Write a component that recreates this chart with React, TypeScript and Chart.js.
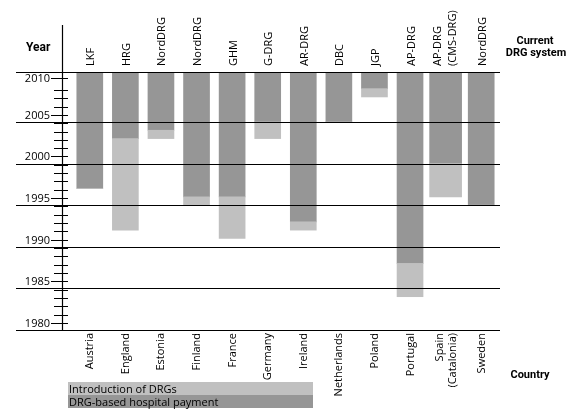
import React, { useEffect, useRef } from "react";
import { Chart, registerables } from "chart.js";

Chart.register(...registerables);

// ---- data ----
const countries: string[][] = [
  ["Austria"], ["England"], ["Estonia"], ["Finland"], ["France"], ["Germany"],
  ["Ireland"], ["Netherlands"], ["Poland"], ["Portugal"], ["Spain", "(Catalonia)"], ["Sweden"],
];
const drgSystems: string[][] = [
  ["LKF"], ["HRG"], ["NordDRG"], ["NordDRG"], ["GHM"], ["G-DRG"],
  ["AR-DRG"], ["DBC"], ["JGP"], ["AP-DRG"], ["AP-DRG", "(CMS-DRG)"], ["NordDRG"],
];
const introductionYear = [1997, 1992, 2003, 1995, 1991, 2003, 1992, 2005, 2008, 1984, 1996, 1995];
const paymentYear = [1997, 2003, 2004, 1996, 1996, 2005, 1993, 2005, 2009, 1988, 2000, 1995];
const chartEndYear = 2011;
const yearMin = 1980;
const majorYears = [1980, 1985, 1990, 1995, 2000, 2005, 2010];
const gridYears = [1980, 1985, 1990, 1995, 2000, 2005];
const legendLabels = ["Introduction of DRGs", "DRG-based hospital payment"];

// ---- style ----
const LIGHT = "#c0c0c0";
const DARK = "#969696";
const WIDE_INDEX = 10;
const REG = "11px 'Open Sans', 'Liberation Sans', sans-serif";
const BOLD_YEAR = "bold 12px Roboto, 'Liberation Sans', sans-serif";
const BOLD = "bold 11px Roboto, 'Liberation Sans', sans-serif";

const introRanges = introductionYear.map((v, i) => [v, paymentYear[i]]);
const payRanges = paymentYear.map((v) => [v, chartEndYear]);
const onlyNarrow = (a: any[]) => a.map((v, i) => (i === WIDE_INDEX ? null : v));
const onlyWide = (a: any[]) => a.map((v, i) => (i === WIDE_INDEX ? v : null));

const decorPlugin = {
  id: "decor",
  afterDatasetsDraw(chart: any) {
    const ctx = chart.ctx as CanvasRenderingContext2D;
    const ys = chart.scales.y;
    const xs = chart.scales.x;
    const area = chart.chartArea;
    const py = (v: number) => Math.round(ys.getPixelForValue(v)) + 0.5;
    ctx.save();
    ctx.strokeStyle = "#000";
    ctx.lineWidth = 1.2;
    // horizontal lines
    const lineYears = [...gridYears, chartEndYear];
    lineYears.forEach((yr) => {
      const p = py(yr);
      ctx.beginPath();
      ctx.moveTo(16, p);
      ctx.lineTo(area.right + 1, p);
      ctx.stroke();
    });
    // vertical axis
    const axisX = 62.5;
    ctx.beginPath();
    ctx.moveTo(axisX, 25);
    ctx.lineTo(axisX, py(yearMin));
    ctx.stroke();
    // ticks
    ctx.lineWidth = 1;
    for (let yr = yearMin; yr < 2009; yr++) {
      if (yr % 5 === 0) continue;
      const p = py(yr + 0.85);
      ctx.beginPath();
      ctx.moveTo(54, p);
      ctx.lineTo(68, p);
      ctx.stroke();
    }
    ctx.font = REG;
    ctx.fillStyle = "#000";
    ctx.textAlign = "right";
    ctx.textBaseline = "alphabetic";
    majorYears.forEach((yr) => {
      const p = py(Math.min(yr + 0.85, 2010.25));
      ctx.beginPath();
      ctx.moveTo(51, p);
      ctx.lineTo(68, p);
      ctx.stroke();
      ctx.fillText(String(yr), 50, p + 3);
    });
    // axis titles
    ctx.font = BOLD_YEAR;
    ctx.textAlign = "left";
    ctx.fillText("Year", 26, 51);
    ctx.font = BOLD;
    ctx.textAlign = "center";
    ctx.fillText("Current", 535, 44);
    ctx.fillText("DRG system", 536, 56);
    ctx.fillText("Country", 530, 378);
    // rotated labels
    ctx.font = REG;
    for (let i = 0; i < countries.length; i++) {
      const cx = xs.getPixelForValue(i);
      const sys = drgSystems[i];
      sys.forEach((t, j) => {
        const off = sys.length === 1 ? 4.5 : j === 0 ? -5 : 10;
        ctx.save();
        ctx.translate(cx + off, 66);
        ctx.rotate(-Math.PI / 2);
        ctx.textAlign = "left";
        ctx.fillText(t, 0, 0);
        ctx.restore();
      });
      const ct = countries[i];
      ct.forEach((t, j) => {
        const off = ct.length === 1 ? 3.5 : j === 0 ? -3 : 10;
        ctx.save();
        ctx.translate(cx + off, 333);
        ctx.rotate(-Math.PI / 2);
        ctx.textAlign = "right";
        ctx.fillText(t, 0, 0);
        ctx.restore();
      });
    }
    // legend
    const lx = 68, lw = 245, lh = 13;
    [LIGHT, DARK].forEach((c, k) => {
      const top = 382 + k * lh;
      ctx.fillStyle = c;
      ctx.fillRect(lx, top, lw, lh);
      ctx.fillStyle = "#000";
      ctx.textAlign = "left";
      ctx.fillText(legendLabels[k], lx + 1, top + 11);
    });
    ctx.restore();
  },
};

export default function App() {
  const ref = useRef<HTMLCanvasElement | null>(null);
  useEffect(() => {
    if (!ref.current) return;
    const chart = new Chart(ref.current, {
      type: "bar",
      data: {
        labels: countries.map((c) => c.join(" ")),
        datasets: [
          { label: legendLabels[0], data: onlyNarrow(introRanges) as any, backgroundColor: LIGHT, barThickness: 26, grouped: false, borderWidth: 0 } as any,
          { label: legendLabels[1], data: onlyNarrow(payRanges) as any, backgroundColor: DARK, barThickness: 26, grouped: false, borderWidth: 0 } as any,
          { label: legendLabels[0], data: onlyWide(introRanges) as any, backgroundColor: LIGHT, barThickness: 32, grouped: false, borderWidth: 0 } as any,
          { label: legendLabels[1], data: onlyWide(payRanges) as any, backgroundColor: DARK, barThickness: 32, grouped: false, borderWidth: 0 } as any,
        ],
      },
      options: {
        responsive: false,
        devicePixelRatio: 1,
        animation: false,
        layout: { padding: { left: 72, right: 78, top: 72, bottom: 84 } },
        plugins: { legend: { display: false }, tooltip: { enabled: false } },
        scales: {
          x: { type: "category", display: false, offset: true, grid: { display: false } },
          y: { type: "linear", display: false, min: yearMin, max: chartEndYear },
        },
      },
      plugins: [decorPlugin],
    });
    return () => chart.destroy();
  }, []);
  return (
    <div style={{ position: "fixed", left: 0, top: 0, width: 577, height: 414, background: "#fff" }}>
      <canvas ref={ref} width={577} height={414} style={{ display: "block", width: 577, height: 414 }} />
    </div>
  );
}
